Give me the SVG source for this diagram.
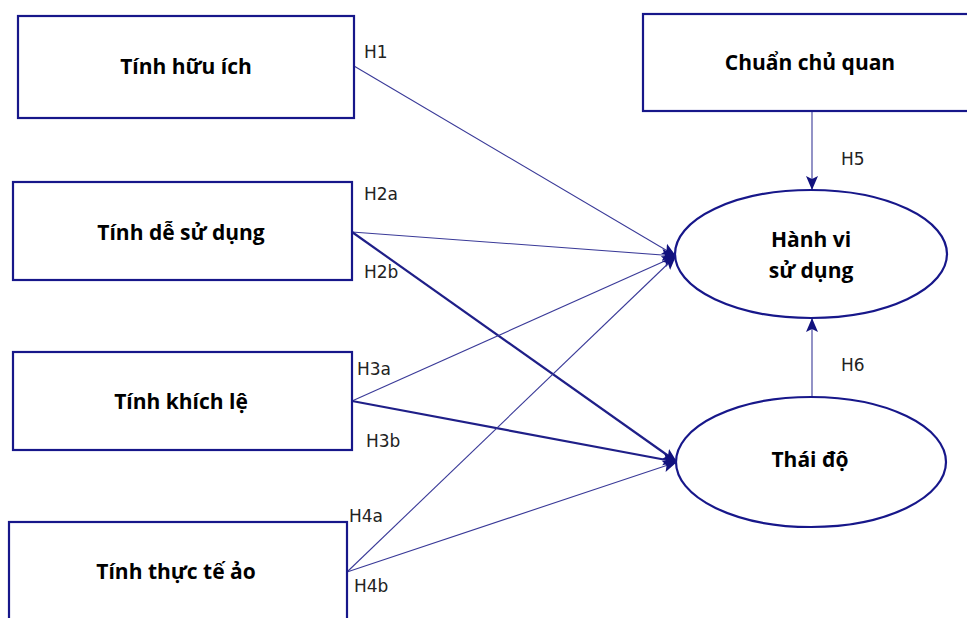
<svg xmlns="http://www.w3.org/2000/svg" width="967" height="618" viewBox="0 0 967 618">
<style>
.box{fill:#fff;stroke:#17178a;stroke-width:2.2}
.ell{fill:#fff;stroke:#17178a;stroke-width:2.2}
.t{font-family:"Open Sans","Noto Sans",sans-serif;font-weight:bold;font-size:21px;fill:#000;text-anchor:middle}
.lbl{font-family:"DejaVu Sans","Liberation Sans",sans-serif;font-size:17px;fill:#222}
.c{fill:none;stroke:#3a3a98;stroke-width:1.1}
.ck{fill:none;stroke:#1f1f88;stroke-width:2.2}
</style>
<defs>
<marker id="ah" markerUnits="userSpaceOnUse" markerWidth="16" markerHeight="14" refX="14" refY="7" orient="auto">
<path d="M0,1 L14,7 L0,13 L3,7 Z" fill="#12127e"/>
</marker>
</defs>
<rect width="967" height="618" fill="#fff"/>
<g id="connectors">
<line class="c" x1="354" y1="66" x2="676" y2="256" marker-end="url(#ah)"/>
<line class="c" x1="352" y1="232" x2="676" y2="256" marker-end="url(#ah)"/>
<line class="ck" x1="352" y1="232" x2="677" y2="462" marker-end="url(#ah)"/>
<line class="c" x1="352" y1="401" x2="676" y2="256" marker-end="url(#ah)"/>
<line class="ck" x1="352" y1="401" x2="677" y2="462" marker-end="url(#ah)"/>
<line class="c" x1="347" y1="572" x2="676" y2="256" marker-end="url(#ah)"/>
<line class="c" x1="347" y1="572" x2="677" y2="462" marker-end="url(#ah)"/>
<line class="c" x1="812" y1="112" x2="812" y2="190" marker-end="url(#ah)"/>
<line class="c" x1="812" y1="397" x2="812" y2="318" marker-end="url(#ah)"/>
<text class="lbl" x="364" y="58">H1</text>
<text class="lbl" x="364" y="200">H2a</text>
<text class="lbl" x="364" y="278">H2b</text>
<text class="lbl" x="357" y="375">H3a</text>
<text class="lbl" x="366" y="447">H3b</text>
<text class="lbl" x="349" y="522">H4a</text>
<text class="lbl" x="354" y="592">H4b</text>
<text class="lbl" x="841" y="165">H5</text>
<text class="lbl" x="841" y="371">H6</text>
</g>
<g id="n1"><rect class="box" x="18" y="16" width="336" height="102"/><text class="t" x="186" y="74">Tính hữu ích</text></g>
<g id="n2"><rect class="box" x="13" y="182" width="339" height="98"/><text class="t" x="181" y="240">Tính dễ sử dụng</text></g>
<g id="n3"><rect class="box" x="13" y="352" width="339" height="98"/><text class="t" x="181" y="409">Tính khích lệ</text></g>
<g id="n4"><rect class="box" x="9" y="522" width="338" height="110"/><text class="t" x="176" y="579">Tính thực tế ảo</text></g>
<g id="n5"><rect class="box" x="643" y="14" width="340" height="97"/><text class="t" x="810" y="70">Chuẩn chủ quan</text></g>
<g id="n6"><ellipse class="ell" cx="811" cy="254" rx="136" ry="64"/><text class="t" x="811" y="247">Hành vi</text><text class="t" x="811" y="278">sử dụng</text></g>
<g id="n7"><ellipse class="ell" cx="811" cy="462" rx="135" ry="65"/><text class="t" x="810" y="467">Thái độ</text></g>
</svg>
